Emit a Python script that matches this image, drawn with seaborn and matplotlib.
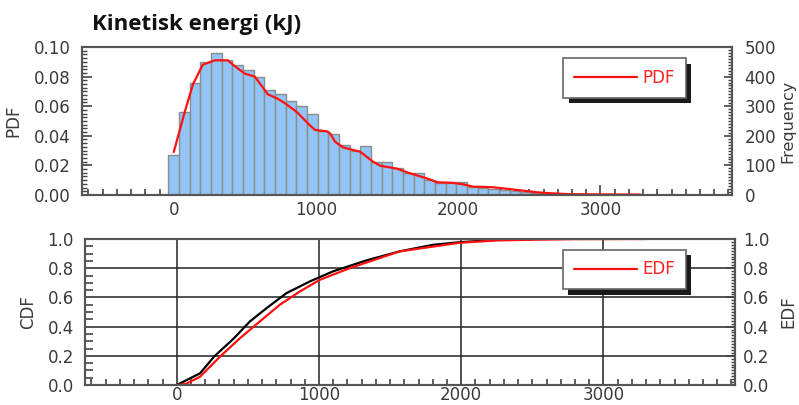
import numpy as np
import pandas as pd
import matplotlib
matplotlib.use("Agg")
import matplotlib.pyplot as plt
import matplotlib.patheffects as pe
from matplotlib.ticker import MultipleLocator
import seaborn as sns

# ---------------- data ----------------
# histogram: bin centres (kJ) and probability per bin
hist_centers = [0, 75, 150, 225, 300, 375, 450, 525, 600, 675, 750, 825, 900, 975,
                1050, 1125, 1200, 1275, 1350, 1425, 1500, 1575, 1650, 1725, 1800,
                1875, 1950, 2025, 2100, 2175, 2250, 2325, 2400, 2475, 2550, 2625,
                2700, 2775, 2850, 2925, 3000, 3075, 3150, 3225]
hist_pdf = [0.027, 0.056, 0.076, 0.090, 0.0957, 0.091, 0.088, 0.0845, 0.080, 0.071,
            0.068, 0.0635, 0.060, 0.055, 0.043, 0.0415, 0.034, 0.030, 0.033, 0.0225,
            0.0225, 0.018, 0.0146, 0.015, 0.010, 0.0083, 0.008, 0.009, 0.0056, 0.0045,
            0.004, 0.0033, 0.0026, 0.002, 0.0015, 0.0011, 0.0007, 0.0005, 0.0003,
            0.0002, 0.0002, 0.0001, 0.0001, 0.0001]

# smoothed PDF curve
pdf_x = [0, 77, 136, 204, 289, 380, 430, 500, 570, 662, 732, 782, 866, 958, 993,
         1077, 1099, 1134, 1190, 1261, 1310, 1401, 1451, 1570, 1641, 1732, 1803,
         1852, 1965, 2035, 2106, 2176, 2246, 2345, 2450, 2556, 2648, 2768, 3000, 3282]
pdf_y = [0.029, 0.056, 0.075, 0.088, 0.091, 0.091, 0.087, 0.082, 0.080, 0.068, 0.065,
         0.062, 0.056, 0.047, 0.044, 0.043, 0.0417, 0.036, 0.0322, 0.0304, 0.0293,
         0.0225, 0.0198, 0.0178, 0.0153, 0.0126, 0.0104, 0.0086, 0.0082, 0.0072,
         0.0056, 0.0055, 0.0052, 0.0042, 0.003, 0.0018, 0.0012, 0.0006, 0.0004, 0.0003]

# theoretical CDF (black)
cdf_x = [0, 70, 164, 262, 402, 514, 631, 771, 935, 1098, 1332, 1566, 1800, 1988, 2245, 2500]
cdf_y = [0.0, 0.034, 0.08, 0.194, 0.32, 0.435, 0.526, 0.629, 0.709, 0.778, 0.853,
         0.915, 0.96, 0.978, 0.994, 0.999]

# empirical distribution function (red)
edf_x = [0, 35, 70, 164, 304, 444, 584, 724, 865, 1005, 1215, 1566, 1988, 2245, 2504, 2800, 3297]
edf_y = [0.0, 0.003, 0.01, 0.057, 0.194, 0.32, 0.435, 0.549, 0.64, 0.72, 0.80, 0.915,
         0.974, 0.99, 0.995, 0.999, 1.0]

x_ticks = [0, 1000, 2000, 3000]
title = "Kinetisk energi (kJ)"

# ---------------- style ----------------
sns.set_theme(style="ticks")
plt.rcParams["font.family"] = ["DejaVu Sans"]
plt.rcParams["axes.linewidth"] = 1.5
plt.rcParams["axes.edgecolor"] = "#555555"

TXT = "#3a3a3a"
W, H = 799, 405
fig = plt.figure(figsize=(W / 100, H / 100), dpi=100)

def frac(l, t, r, b):
    return [l / W, 1 - b / H, (r - l) / W, (b - t) / H]

ax_top = fig.add_axes(frac(82, 47, 732, 195))
ax_bot = fig.add_axes(frac(85, 239, 735, 385))
XLIM = (-645, 3925)

# ---------------- top panel ----------------
sns.histplot(x=hist_centers, weights=hist_pdf, binwidth=75,
             binrange=(hist_centers[0] - 37.5, hist_centers[-1] + 37.5),
             stat="count", color="#92c5f5", edgecolor="#8c8c8c", linewidth=1.0,
             alpha=1, ax=ax_top)
sns.lineplot(x=pdf_x, y=pdf_y, color="#ff1010", linewidth=1.6, ax=ax_top, label="PDF")
ax_top.set_xlim(*XLIM)
ax_top.set_ylim(0, 0.10)
ax_top.set_xticks(x_ticks)
ax_top.set_xticklabels([str(v) for v in x_ticks])
ax_top.xaxis.set_minor_locator(MultipleLocator(100))
ax_top.set_yticks(np.arange(0, 0.1001, 0.02))
ax_top.set_yticklabels([f"{v:.2f}" for v in np.arange(0, 0.1001, 0.02)])
ax_top.yaxis.set_minor_locator(MultipleLocator(0.0025))
ax_top.tick_params(axis="x", which="major", direction="in", length=7, width=1.2,
                   color="#444444", labelsize=12, labelcolor=TXT, pad=4)
ax_top.tick_params(axis="x", which="minor", direction="in", length=4, width=1.2, color="#444444")
ax_top.tick_params(axis="y", which="major", direction="in", length=7, width=1.2,
                   color="#444444", labelsize=12, labelcolor=TXT, pad=8)
ax_top.tick_params(axis="y", which="minor", direction="in", length=3.5, width=1.0, color="#444444")
ax_top.set_xlabel("")
ax_top.set_ylabel("PDF", fontsize=12, color=TXT)
ax_top.yaxis.set_label_coords(-0.091, 0.5)
for s in ax_top.spines.values():
    s.set_visible(True)

ax_freq = ax_top.twinx()
ax_freq.set_ylim(0, 500)
ax_freq.set_yticks([0, 100, 200, 300, 400, 500])
ax_freq.yaxis.set_minor_locator(MultipleLocator(10))
ax_freq.tick_params(axis="y", which="major", direction="in", length=6, width=1.2,
                    color="#444444", labelsize=12, labelcolor=TXT, pad=9)
ax_freq.tick_params(axis="y", which="minor", direction="in", length=3, width=1.0, color="#444444")
ax_freq.set_ylabel("Frequency", fontsize=11.5, color=TXT)
ax_freq.yaxis.set_label_coords(1.075, 0.5)

leg = ax_top.legend(loc="upper left", bbox_to_anchor=(0.74, 0.926), borderaxespad=0,
                    fontsize=12, labelcolor="#ff2020", frameon=True, fancybox=False,
                    edgecolor="#666666", framealpha=1, borderpad=0.65,
                    handlelength=3.8, handletextpad=0.3)
leg.get_frame().set_linewidth(1.2)
leg.get_frame().set_path_effects([pe.SimplePatchShadow(offset=(4, -4), shadow_rgbFace="k", alpha=1),
                                  pe.Normal()])

# ---------------- bottom panel ----------------
sns.lineplot(x=cdf_x, y=cdf_y, color="black", linewidth=1.6, ax=ax_bot)
sns.lineplot(x=edf_x, y=edf_y, color="#ff1010", linewidth=1.6, ax=ax_bot, label="EDF")
ax_bot.set_xlim(*XLIM)
ax_bot.set_ylim(0, 1.0)
ax_bot.set_xticks(x_ticks)
ax_bot.set_xticklabels([str(v) for v in x_ticks])
ax_bot.xaxis.set_minor_locator(MultipleLocator(100))
ax_bot.set_yticks(np.arange(0, 1.001, 0.2))
ax_bot.set_yticklabels([f"{v:.1f}" for v in np.arange(0, 1.001, 0.2)])
ax_bot.yaxis.set_minor_locator(MultipleLocator(0.05))
ax_bot.grid(True, which="major", color="#222222", linewidth=1.1)
ax_bot.tick_params(axis="x", which="major", direction="in", length=0,
                   labelsize=12, labelcolor=TXT, pad=1)
ax_bot.tick_params(axis="x", which="minor", direction="in", length=4, width=1.2, color="#444444")
ax_bot.tick_params(axis="y", which="major", direction="in", length=0,
                   labelsize=12, labelcolor=TXT, pad=8)
ax_bot.tick_params(axis="y", which="minor", direction="in", length=6, width=1.2, color="#444444")
ax_bot.set_xlabel("")
ax_bot.set_ylabel("CDF", fontsize=12, color=TXT)
ax_bot.yaxis.set_label_coords(-0.074, 0.5)

ax_edf = ax_bot.twinx()
ax_edf.set_ylim(0, 1.0)
ax_edf.set_yticks(np.arange(0, 1.001, 0.2))
ax_edf.set_yticklabels([f"{v:.1f}" for v in np.arange(0, 1.001, 0.2)])
ax_edf.yaxis.set_minor_locator(MultipleLocator(0.02))
ax_edf.tick_params(axis="y", which="major", direction="in", length=6, width=1.2,
                   color="#444444", labelsize=12, labelcolor=TXT, pad=6)
ax_edf.tick_params(axis="y", which="minor", direction="in", length=3, width=1.0, color="#444444")
ax_edf.set_ylabel("EDF", fontsize=12, color=TXT)
ax_edf.yaxis.set_label_coords(1.069, 0.5)

leg2 = ax_bot.legend(loc="upper left", bbox_to_anchor=(0.735, 0.927), borderaxespad=0,
                     fontsize=12, labelcolor="#ff2020", frameon=True, fancybox=False,
                     edgecolor="#666666", framealpha=1, borderpad=0.65,
                     handlelength=3.8, handletextpad=0.3)
leg2.get_frame().set_linewidth(1.2)
leg2.get_frame().set_path_effects([pe.SimplePatchShadow(offset=(4, -4), shadow_rgbFace="k", alpha=1),
                                   pe.Normal()])

# ---------------- title ----------------
fig.text(92 / W, 1 - 30 / H, title, fontsize=16, fontweight="bold",
         family=["Open Sans", "DejaVu Sans"], color="#111111", ha="left", va="baseline")

fig.savefig("out.png", dpi=100)
